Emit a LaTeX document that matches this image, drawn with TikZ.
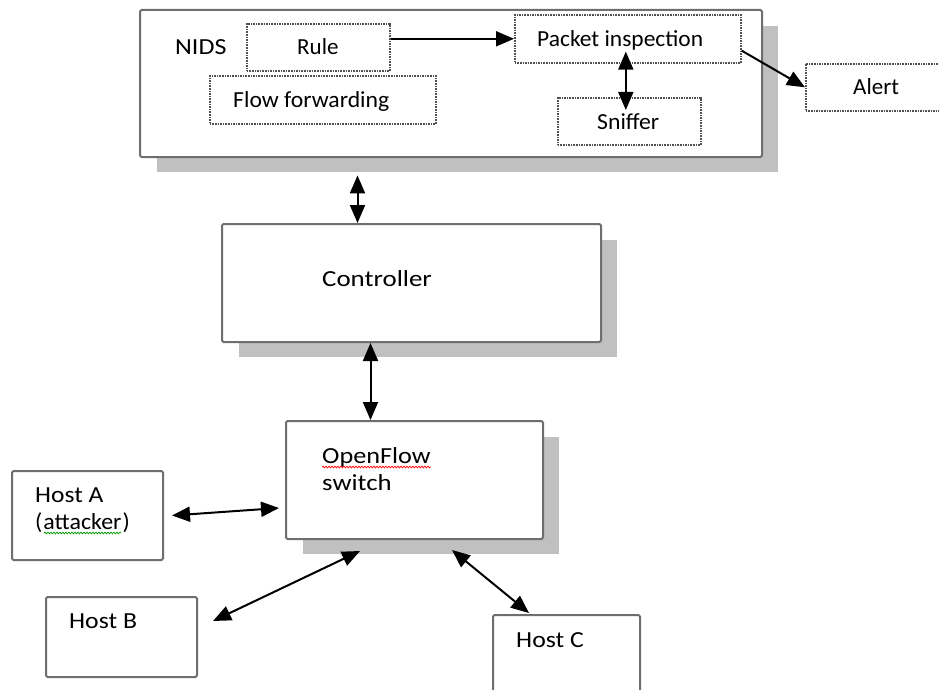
\documentclass[tikz,border=0pt]{standalone}
\usepackage{fontspec}
\usepackage{graphicx}
\setmainfont{Carlito}
\usetikzlibrary{arrows.meta,calc,decorations.pathmorphing}
\definecolor{boxgray}{HTML}{6E6E6E}
\definecolor{shadowc}{HTML}{C0C0C0}
\definecolor{dotgray}{HTML}{505050}
\newcommand\wtext[2]{\scalebox{#1}[1]{#2}}
\begin{document}
\begin{tikzpicture}[x=1pt,y=-1pt,
  font=\fontsize{23}{27}\selectfont,
  box/.style={draw=boxgray, line width=2pt, fill=white, rounded corners=1.5pt, inner sep=0pt, anchor=north west},
  shadowbox/.style={fill=shadowc, inner sep=0pt, anchor=north west},
  dotbox/.style={draw=dotgray, line width=1.6pt, dash pattern=on 1.6pt off 1pt, fill=white, inner sep=0pt, anchor=north west},
  lbl/.style={anchor=base west, inner sep=0pt, text=black},
  tip/.tip={Triangle[length=18pt,width=15pt]},
  dbl/.style={tip-tip, line width=2pt},
  arr/.style={-tip, line width=2pt},
  wavy/.style={decorate, decoration={snake, amplitude=0.9pt, segment length=3pt}, line width=0.7pt}
]
\useasboundingbox (0,0) rectangle (939,690);
% shadows
\node[shadowbox, minimum width=621pt, minimum height=146pt] (nidsS) at (157,26) {};
\node[shadowbox, minimum width=378pt, minimum height=117pt] (ctrlS) at (239,240) {};
\node[shadowbox, minimum width=256pt, minimum height=117pt] (swS) at (303,437) {};
% main boxes
\node[box, minimum width=622pt, minimum height=147pt] (nids) at (139,9) {};
\node[box, minimum width=379pt, minimum height=118pt] (ctrl) at (221,223) {};
\node[box, minimum width=257pt, minimum height=118pt] (sw) at (285,420) {};
\node[box, minimum width=151pt, minimum height=89pt] (ha) at (11,470) {};
\node[box, minimum width=151pt, minimum height=80pt] (hb) at (45,596) {};
\node[box, minimum width=147pt, minimum height=86pt] (hc) at (492,614) {};
% dotted boxes
\node[dotbox, minimum width=143pt, minimum height=47pt] (rule) at (246,23) {};
\node[dotbox, minimum width=226pt, minimum height=48pt] (flow) at (209,75) {};
\node[dotbox, minimum width=226pt, minimum height=48pt] (pi) at (514,14) {};
\node[dotbox, minimum width=143pt, minimum height=47pt] (sn) at (557,97) {};
\node[dotbox, minimum width=140pt, minimum height=47pt] (al) at (805,63) {};
% labels
\node[lbl] (tnids) at (175,55) {\wtext{1.13}{NIDS}};
\node[lbl] (trule) at (297,55) {Rule};
\node[lbl] (tflow) at (233,108) {\wtext{1.03}{Flow forwarding}};
\node[lbl] (tpi) at (537,47) {\wtext{1.02}{Packet inspection}};
\node[lbl] (tsn) at (597,130) {\wtext{1.03}{Sniffer}};
\node[lbl] (tal) at (853,95) {Alert};
\node[lbl] (tctrl) at (322,286) {\wtext{1.17}{Controller}};
\node[lbl] (tof) at (322,463) {\wtext{1.14}{OpenFlow}};
\node[lbl] (tsw) at (322,490) {\wtext{1.16}{switch}};
\node[lbl] (tha) at (35,502) {\wtext{1.11}{Host A}};
\node[lbl] (tatk) at (35,529) {\wtext{1.04}{(\kern1pt attacker\kern1pt)}};
\node[lbl] (thb) at (69,628) {\wtext{1.12}{Host B}};
\node[lbl] (thc) at (516,647) {\wtext{1.12}{Host C}};
% spell-check underlines
\draw[wavy, red] ($(tof.base west)+(0,4)$) -- ($(tof.base east)+(0,4)$);
\draw[wavy, green!60!black] ($(tatk.base west)+(9,4)$) -- ($(tatk.base east)+(-9,4)$);
% connectors
\draw[arr] (rule.east |- pi.west) -- (pi.west);
\draw[dbl, shorten <=-12pt, shorten >=-13pt] ($(pi.south)+(-2,0)$) -- ($(sn.north)+(-3.5,0)$);
\draw[arr] ([yshift=13pt]pi.south east) -- (al.west);
\draw[dbl] ([xshift=-54pt]ctrl.north) -- ($([xshift=-54pt]ctrl.north |- nidsS.south)+(0,3)$);
\draw[dbl] ([xshift=-41pt]ctrl.south) -- ([xshift=-41pt]ctrl.south |- sw.north);
\draw[dbl] ($(ha.east)+(8,0)$) -- ($(sw.west)+(-6,28)$);
\draw[dbl] ($(hb.north east)+(15,25)$) -- ($(sw.south west)+(75,11)$);
\draw[dbl] ($(hc.north west)+(37,-1)$) -- ($(sw.south west)+(167,10)$);
\end{tikzpicture}
\end{document}
